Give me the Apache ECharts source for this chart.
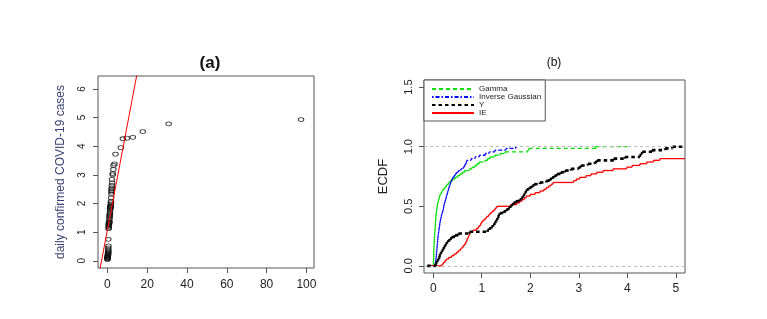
<!DOCTYPE html>
<html><head><meta charset="utf-8">
<script src="https://cdn.jsdelivr.net/npm/echarts@6/dist/echarts.min.js"></script>
<style>html,body{margin:0;padding:0;background:#fff}#c{width:767px;height:319px}</style>
</head><body><div id="c"></div>
<script>
// ---------- Panel (a): Q-Q style scatter ----------
const qqX = [0.05,0.08,0.1,0.12,0.15,0.18,0.2,0.25,
  0.28,0.3,0.33,0.35,0.38,
  0.4,0.42,0.45,0.48,
  0.5,0.55,0.5,
  0.62,0.65,0.7,
  0.72,0.75,0.78,0.8,0.85,0.9,0.95,1.0,
  1.05,1.1,1.15,1.2,1.25,1.3,
  1.35,1.4,
  1.45,1.5,1.55,1.6,1.65,1.7,
  1.75,1.8,1.85,
  1.9,2.0,
  2.05,2.1,2.15,2.2,
  2.3,2.4,
  2.3,2.7,
  2.7,3.0,3.1,3.6,4.1,6.8,7.8,9.8,12.8,17.8,30.8,97.3];
const qqY = [0.05,0.06,0.08,0.10,0.12,0.13,0.14,0.16,
  0.18,0.20,0.22,0.24,0.26,
  0.28,0.31,0.35,0.38,
  0.45,0.52,0.75,
  1.12,1.15,1.2,
  1.23,1.26,1.28,1.30,1.32,1.34,1.35,1.37,
  1.45,1.50,1.55,1.58,1.62,1.65,
  1.70,1.78,
  1.82,1.85,1.87,1.89,1.91,1.93,
  1.98,2.03,2.08,
  2.20,2.33,
  2.40,2.45,2.50,2.55,
  2.63,2.72,
  2.84,3.00,
  3.05,3.19,3.33,3.38,3.72,3.95,4.26,4.28,4.31,4.51,4.78,4.93];
// reference line endpoints (data space, clipped by the plot box)
const ablineX = [-10, 25];
const ablineY = [-2.59, 10.22];
const aXTicks = [0,20,40,60,80,100];
const aYTicks = [0,1,2,3,4,5,6];

// ---------- Panel (b): ECDF samples (sorted) ----------
const gammaSample = [0.002,0.004,0.005,0.006,0.008,0.009,0.01,
  0.011,0.012,0.013,0.015,0.016,0.018,0.02,
  0.022,0.024,0.026,0.028,0.03,0.032,0.034,0.037,0.04,
  0.042,0.044,0.047,0.05,0.052,0.054,0.057,0.06,
  0.065,0.07,0.075,0.08,0.085,0.09,0.1,
  0.11,0.12,0.13,0.14,
  0.16,0.18,0.2,
  0.23,0.26,0.28,
  0.32,0.35,
  0.4,0.45,
  0.5,0.55,
  0.6,0.65,
  0.75,
  0.8,0.86,
  0.9,0.95,
  1.07,
  1.12,1.17,
  1.27,
  1.38,
  1.48,
  1.95,1.97,
  3.35];
const igSample = [0.04,0.045,0.05,0.054,0.058,0.062,0.065,0.068,0.072,0.075,0.078,0.081,0.084,0.087,0.09,0.093,0.096,0.1,
  0.105,0.11,0.115,0.12,0.125,0.13,0.135,0.14,0.148,0.155,0.162,0.17,
  0.18,0.19,0.2,0.21,0.215,0.22,0.23,0.24,
  0.25,0.26,0.27,0.28,0.29,0.3,0.31,
  0.32,0.33,0.345,0.355,0.37,0.38,
  0.4,0.43,0.45,0.48,
  0.52,0.57,0.62,
  0.64,0.66,0.68,0.69,
  0.78,0.86,
  0.95,1.07,
  1.15,1.27,
  1.5,1.7];
const ySample = qqY;
const ieSample = [0.18,0.21,0.24,0.27,
  0.32,0.38,0.43,0.48,
  0.52,0.56,0.59,0.62,
  0.65,0.67,0.69,0.7,0.72,0.73,0.75,0.76,
  0.82,0.89,
  0.93,0.96,0.98,1.0,1.03,
  1.07,1.1,1.14,1.17,
  1.21,1.25,1.28,1.31,
  1.6,1.72,
  1.78,1.83,1.88,1.92,
  2.0,2.1,2.2,
  2.28,2.33,2.38,2.43,2.47,
  2.89,
  2.95,3.02,
  3.15,3.25,3.37,
  3.5,3.71,
  3.99,
  4.1,4.26,
  4.4,4.54,
  4.67,
  6.3,8.0,10.2,12.7,18,30.8,97.5];
const seriesNames = ['Gamma','Inverse Gaussian','Y','IE'];
const ecdfStart = [-0.12,-0.12,-0.12,-0.12];
const ecdfEnd = [4.0,1.75,5.3,5.3];
const bXTicks = [0,1,2,3,4,5];
const bYTicks = [0,0.5,1.0,1.5];
const refLevels = [0,1];

// ---------- build ----------
const FONT = 'Liberation Sans, Arial, Helvetica, sans-serif';
// step pieces: [x, F before jump, F after jump, x of next jump]
function ecdfSteps(s, start, end){
  const n = s.length, d = [[start, 0, 0, s[0]]];
  s.forEach((v,i)=>{
    const nx = i < n-1 ? s[i+1] : Math.max(end, v);
    d.push([v, i/n, (i+1)/n, nx]);
  });
  return d;
}
const samples = [gammaSample, igSample, ySample, ieSample];
const colors = ['#00e000','#0000ff','#000000','#ff0000'];
const dashes = [[4,3],[1.5,2,4,2],[3.5,3],null];
const widths = [1.3,1.3,2.6,1.3];

const chart = echarts.init(document.getElementById('c'), null, {renderer:'canvas'});
const axisCommon = (ticks, fs, rot, margin, dec) => ({
  axisLine:{show:false, onZero:false}, splitLine:{show:false},
  axisTick:{show:true, inside:false, length:5, customValues:ticks, lineStyle:{color:'#555',width:1}},
  axisLabel:{customValues:ticks, fontSize:fs, color:'#222', fontFamily:FONT, rotate:rot, margin:margin,
    formatter: v => (dec ? Number(v).toFixed(1) : String(v))}
});
// each horizontal and vertical piece drawn on its own (dash pattern restarts, as in R's stepfun plot)
const ecdfSeries = samples.map((s,k)=>({
  type:'custom', xAxisIndex:1, yAxisIndex:1, clip:true, silent:true, z: k===2 ? 4 : 3,
  data: ecdfSteps(s, ecdfStart[k], ecdfEnd[k]),
  encode:{x:[0,3], y:[1,2]},
  renderItem:(params, api)=>{
    const x=api.value(0), f0=api.value(1), f1=api.value(2), xn=api.value(3);
    const a=api.coord([x,f0]), b=api.coord([x,f1]), c=api.coord([xn,f1]);
    const st = {stroke:colors[k], lineWidth:widths[k], lineDash:dashes[k], lineCap:'butt'};
    const ch = [];
    if (f1 > f0) ch.push({type:'line', shape:{x1:a[0],y1:a[1],x2:b[0],y2:b[1]}, style:st});
    if (xn > x) ch.push({type:'line', shape:{x1:b[0],y1:b[1],x2:c[0],y2:c[1]}, style:st});
    return {type:'group', children:ch};
  }
}));
// legend carriers (no data)
const legendSeries = seriesNames.map((nm,k)=>({
  name:nm, type:'line', xAxisIndex:1, yAxisIndex:1, data:[], symbol:'none',
  lineStyle:{color:colors[k], width:widths[k], type: dashes[k] || 'solid'}, itemStyle:{color:colors[k]}
}));

chart.setOption({
  animation:false,
  backgroundColor:'#fff',
  grid:[
    {left:98, top:76, width:216, height:192, show:true, borderColor:'#555', borderWidth:1, backgroundColor:'transparent'},
    {left:424, top:80, width:261, height:193, show:true, borderColor:'#555', borderWidth:1, backgroundColor:'transparent'}
  ],
  xAxis:[
    Object.assign({type:'value', gridIndex:0, min:-4.7, max:103.8}, axisCommon(aXTicks, 12, 0, 11, false)),
    Object.assign({type:'value', gridIndex:1, min:-0.19, max:5.19}, axisCommon(bXTicks, 12, 0, 10, false))
  ],
  yAxis:[
    Object.assign({type:'value', gridIndex:0, min:-0.25, max:6.45,
      name:'daily confirmed COVID-19 cases', nameLocation:'middle', nameGap:31, nameRotate:90,
      nameTextStyle:{fontSize:12, color:'#3a4170', fontFamily:FONT}}, axisCommon(aYTicks, 10, 90, 11, false)),
    Object.assign({type:'value', gridIndex:1, min:-0.06, max:1.56,
      name:'ECDF', nameLocation:'middle', nameGap:34, nameRotate:90,
      nameTextStyle:{fontSize:13, color:'#222', fontFamily:FONT}}, axisCommon(bYTicks, 11, 90, 10, true))
  ],
  legend:{
    data:seriesNames, orient:'vertical', left:424, top:80, padding:[5,4,4,7],
    itemGap:0, itemWidth:42, itemHeight:8, itemTextGap:7,
    borderColor:'#555', borderWidth:1, borderRadius:0, backgroundColor:'#fff',
    itemStyle:{opacity:0, borderWidth:0},
    textStyle:{fontSize:8, lineHeight:8, color:'#222', fontFamily:FONT},
    selectedMode:false
  },
  graphic:[
    {type:'text', x:210, y:63, style:{text:'(a)', font:'bold 17px '+FONT, fill:'#111', textAlign:'center', textVerticalAlign:'middle'}},
    {type:'text', x:554, y:63, style:{text:'(b)', font:'12px '+FONT, fill:'#111', textAlign:'center', textVerticalAlign:'middle'}}
  ],
  series:[
    {type:'scatter', xAxisIndex:0, yAxisIndex:0, symbol:'circle', symbolSize:[5.5,4],
      data: qqX.map((x,i)=>[x, qqY[i]]),
      itemStyle:{color:'rgba(0,0,0,0)', borderColor:'#111', borderWidth:0.9}, z:3},
    {type:'line', xAxisIndex:0, yAxisIndex:0, symbol:'none', clip:true,
      data: ablineX.map((x,i)=>[x, ablineY[i]]),
      lineStyle:{color:'#ff0000', width:1}, z:4},
    {type:'line', xAxisIndex:1, yAxisIndex:1, data:[], symbol:'none', z:2,
      markLine:{silent:true, symbol:'none', label:{show:false},
        lineStyle:{color:'#bbbbbb', type:[3,3], width:1},
        data: refLevels.map(v=>({yAxis:v}))}},
    ...legendSeries,
    ...ecdfSeries
  ]
});
</script>
</body></html>
